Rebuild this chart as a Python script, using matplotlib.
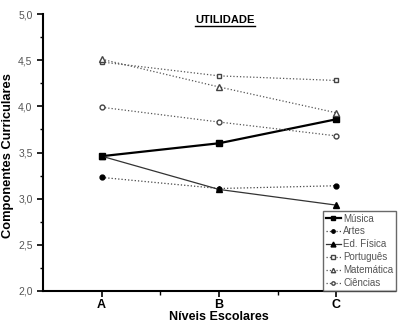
import matplotlib
matplotlib.use("Agg")
import matplotlib.pyplot as plt
from matplotlib.ticker import MultipleLocator, FuncFormatter

# data
niveis = ["A", "B", "C"]
musica = [3.46, 3.60, 3.86]
artes = [3.23, 3.11, 3.14]
ed_fisica = [3.46, 3.10, 2.93]
portugues = [4.48, 4.33, 4.28]
matematica = [4.51, 4.21, 3.93]
ciencias = [3.99, 3.83, 3.68]

plt.rcParams['font.family'] = ['Liberation Sans', 'DejaVu Sans']

fig = plt.figure(figsize=(4.01, 3.24), dpi=100)
ax = fig.add_axes([43/401, 33/324, 352/401, 277/324])

x = [1, 2, 3]
ax.plot(x, musica, '-', color='black', lw=1.6, marker='s', ms=5, label='Música')
ax.plot(x, artes, ':', color='#444444', lw=0.9, marker='o', ms=3.5, mfc='black', mec='black', label='Artes')
ax.plot(x, ed_fisica, '-', color='#333333', lw=0.9, marker='^', ms=5, mfc='black', mec='black', label='Ed. Física')
ax.plot(x, portugues, ':', color='#555555', lw=0.9, marker='s', ms=3.5, mfc='white', mec='#444444', label='Português')
ax.plot(x, matematica, ':', color='#555555', lw=0.9, marker='^', ms=4.5, mfc='white', mec='#444444', label='Matemática')
ax.plot(x, ciencias, ':', color='#555555', lw=0.9, marker='o', ms=3.5, mfc='white', mec='#444444', label='Ciências')

ax.set_xlim(0.5, 3.5)
ax.set_ylim(2.0, 5.0)
ax.set_xticks(x)
ax.set_xticklabels(niveis, fontweight='bold', fontsize=9)
ax.set_xticks([1.5, 2.5], minor=True)
ax.yaxis.set_major_locator(MultipleLocator(0.5))
ax.yaxis.set_minor_locator(MultipleLocator(0.25))
ax.yaxis.set_major_formatter(FuncFormatter(lambda v, p: f"{v:.1f}".replace('.', ',')))
ax.tick_params(axis='y', labelsize=7.5, labelcolor='#555555', length=4, width=1.2)
ax.tick_params(axis='y', which='minor', length=2.5, width=1)
ax.tick_params(axis='x', length=4, width=1.2, pad=2)
ax.tick_params(axis='x', which='minor', length=3, width=1)

for s in ['top', 'right']:
    ax.spines[s].set_visible(False)
for s in ['left', 'bottom']:
    ax.spines[s].set_linewidth(1.5)

ax.set_xlabel('Níveis Escolares', fontweight='bold', fontsize=9, labelpad=0)
fig.text(8/401, 1 - 156/324, 'Componentes Curriculares', fontweight='bold', fontsize=9.3,
         rotation=90, ha='center', va='center')

t = fig.text(225/401, 1 - 20/324, 'UTILIDADE', fontweight='bold', fontsize=8,
             ha='center', va='center')
fig.canvas.draw()
bb = t.get_window_extent()
inv = fig.transFigure.inverted()
(x0, y0), (x1, _) = inv.transform([[bb.x0, bb.y0], [bb.x1, bb.y1]])
fig.add_artist(plt.Line2D([x0, x1], [y0 - 0.002, y0 - 0.002], color='black', lw=1, transform=fig.transFigure))

leg = ax.legend(loc='lower right', fontsize=7, frameon=True, fancybox=False,
                edgecolor='#444444', handlelength=1.6, handletextpad=0.2,
                labelspacing=0.3, borderpad=0.3, borderaxespad=0.0,
                markerscale=0.7, bbox_to_anchor=(1.003, 0.0))
leg.get_frame().set_linewidth(1)
for txt in leg.get_texts():
    txt.set_color('#555555')

fig.savefig('out.png', dpi=100)
